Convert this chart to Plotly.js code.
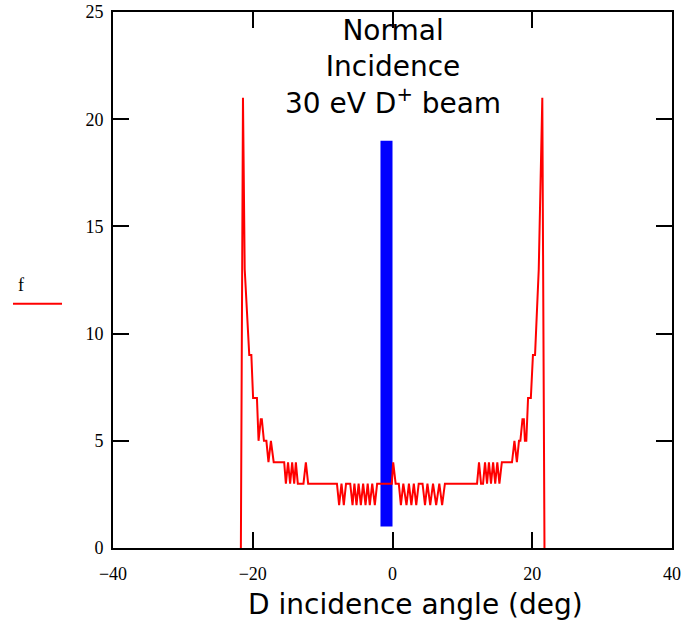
<!DOCTYPE html>
<html>
<head>
<meta charset="utf-8">
<script src="https://cdn.plot.ly/plotly-3.0.1.min.js"></script>
<style>html,body{margin:0;padding:0;background:#fff;}#plot{width:687px;height:626px;}</style>
</head>
<body>
<div id="plot"></div>
<script>
// Distribution of D incidence angles (deg) and frequency f
const angle = [
  -21.7, -21.4, -21.15, -20.5, -20.2, -19.95, -19.4, -19.17, -18.85, -18.7,
  -18.4, -18.05, -17.75, -17.4, -17.0, -15.5, -15.26, -14.95, -14.65, -14.36,
  -14.07, -13.83, -13.55, -12.74, -12.4, -12.07, -7.95, -7.64, -7.3, -6.97,
  -6.65, -6.05, -5.72, -5.45, -5.15, -4.85, -4.53, -4.2, -3.86, -3.55,
  -3.25, -2.9, -2.53, -2.2, -1.0, -0.1, 0.1, 0.45, 0.9, 1.2,
  1.55, 2.0, 2.35, 2.7, 3.05, 3.4, 3.75, 4.3, 4.65, 5.0,
  5.4, 5.8, 6.25, 6.7, 7.1, 7.5, 7.95, 12.1, 12.38, 12.67,
  12.96, 13.24, 13.53, 13.8, 14.1, 14.4, 14.7, 15.0, 15.3, 15.65,
  17.1, 17.45, 17.8, 18.1, 18.3, 18.6, 18.8, 18.95, 19.15, 19.4,
  19.8, 20.1, 20.4, 20.93, 21.44, 21.75
];
const f = [
  0, 21, 13, 9, 9, 7, 7, 5, 6, 6,
  5, 5, 4, 5, 4, 4, 3, 4, 3, 4,
  3, 4, 3, 3, 4, 3, 3, 2, 3, 2,
  3, 3, 2, 3, 2, 3, 2, 3, 2, 3,
  2, 3, 2, 3, 3, 3, 4, 3, 3, 2,
  3, 2, 3, 2, 3, 2, 3, 3, 2, 3,
  2, 3, 2, 3, 2, 3, 3, 3, 4, 3,
  3, 4, 3, 4, 3, 4, 3, 4, 3, 4,
  4, 5, 4, 5, 5, 6, 6, 5, 5, 7,
  7, 9, 9, 13, 21, 0
];
// Incident beam marker (normal incidence)
const beamAngle = [-0.86];
const beamLow = [1];
const beamHigh = [19];

const xTicks = [-40, -20, 0, 20, 40];
const yTicks = [0, 5, 10, 15, 20, 25];

const tickFont = {family: '"Liberation Serif", "Times New Roman", serif', size: 18, color: '#000'};
const bigFont = {family: '"DejaVu Sans", "Open Sans", sans-serif', size: 28, color: '#000'};

const traces = [
  {
    type: 'scatter', mode: 'lines', x: angle, y: f,
    line: {color: '#ff0000', width: 2}, hoverinfo: 'skip', cliponaxis: true
  },
  {
    type: 'bar', x: beamAngle, base: beamLow,
    y: beamHigh.map((h, i) => h - beamLow[i]),
    width: [1.72], marker: {color: '#0000ff', line: {width: 0}}, hoverinfo: 'skip'
  }
];

const layout = {
  width: 687, height: 626,
  margin: {l: 113, r: 15, t: 12, b: 78},
  paper_bgcolor: '#fff', plot_bgcolor: '#fff',
  showlegend: false,
  xaxis: {
    range: [-40, 40], tickvals: xTicks, ticktext: xTicks.map(v => v < 0 ? '\u2212' + Math.abs(v) : String(v)),
    ticks: 'inside', ticklen: 16, tickwidth: 2, tickcolor: '#000',
    showline: true, linecolor: '#000', linewidth: 2, mirror: 'ticks',
    showgrid: false, zeroline: false, tickfont: tickFont, ticklabelstandoff: 8
  },
  yaxis: {
    range: [0, 25], tickvals: yTicks,
    ticks: 'inside', ticklen: 16, tickwidth: 2, tickcolor: '#000',
    showline: true, linecolor: '#000', linewidth: 2, mirror: 'ticks',
    showgrid: false, zeroline: false, tickfont: tickFont, ticklabelstandoff: 4
  },
  annotations: [
    {
      text: 'Normal<br>Incidence<br>30 eV D<sup>+</sup> beam',
      xref: 'x', yref: 'paper', x: 0, y: 0.8975, xanchor: 'center', yanchor: 'middle',
      showarrow: false, font: bigFont, align: 'center'
    },
    {
      text: 'D incidence angle (deg)',
      xref: 'paper', yref: 'paper', x: 0.542, y: -0.106, xanchor: 'center', yanchor: 'middle',
      showarrow: false, font: bigFont
    },
    {
      text: 'f', xref: 'paper', yref: 'paper', x: -0.1646, y: 0.491,
      xanchor: 'center', yanchor: 'middle', showarrow: false, font: tickFont
    }
  ],
  shapes: [
    {
      type: 'line', xref: 'paper', yref: 'paper', x0: -0.1789, x1: -0.0912, y0: 0.4555, y1: 0.4555,
      line: {color: '#ff0000', width: 2}
    }
  ]
};

Plotly.newPlot('plot', traces, layout, {displayModeBar: false, staticPlot: true});
</script>
</body>
</html>
